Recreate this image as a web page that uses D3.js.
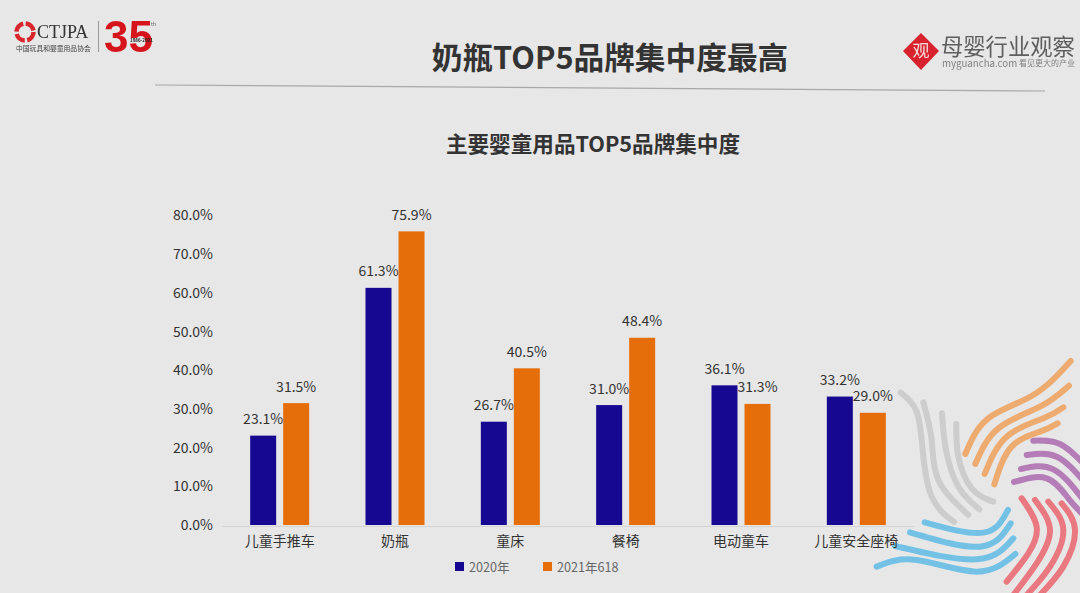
<!DOCTYPE html>
<html>
<head>
<meta charset="utf-8">
<style>
html, body { margin: 0; padding: 0; background: #e7e7e7; }
svg { display: block; }
text { font-family: "Noto Sans CJK SC", "Noto Sans", sans-serif; }
.tick-label { font-size: 14px; fill: #333; }
.cat-label { font-size: 14px; fill: #333; }
.value-label { font-size: 14px; fill: #333; }
.legend-label { font-size: 12.6px; fill: #666; }
.soft { filter: blur(0.5px); }
</style>
</head>
<body>
<svg id="chart" width="1080" height="593"></svg>
<script src="https://cdn.jsdelivr.net/npm/d3@7/dist/d3.min.js"></script>
<script>
var categories = ['儿童手推车', '奶瓶', '童床', '餐椅', '电动童车', '儿童安全座椅'];
var seriesNames = ['2020年', '2021年618'];
var values2020 = [23.1, 61.3, 26.7, 31.0, 36.1, 33.2];
var values2021 = [31.5, 75.9, 40.5, 48.4, 31.3, 29.0];
var yTicks = [0, 10, 20, 30, 40, 50, 60, 70, 80];
var seriesColors = ['#170891', '#e66e0a'];

// decoration ribbons, points in zoomed crop units
var grayRibbons = [
	[[122, 128], [170, 185], [188, 300], [215, 440], [282, 516]],
	[[190, 157], [215, 270], [235, 390], [325, 495]],
	[[246, 190], [258, 300], [295, 410], [358, 478]],
	[[289, 222], [295, 320], [335, 415], [400, 455]]
];
var orangeRibbons = [
	[[316, 312], [385, 205], [520, 135], [632, 33]],
	[[346, 342], [415, 235], [540, 170], [627, 107]],
	[[374, 372], [440, 260], [550, 205], [610, 172]],
	[[403, 403], [455, 290], [540, 245], [593, 220]]
];
var purpleRibbons = [
	[[520, 272], [600, 282], [670, 340]],
	[[500, 315], [590, 320], [670, 392]],
	[[483, 357], [580, 358], [670, 450]],
	[[462, 396], [560, 385], [625, 445], [670, 495]]
];
var redRibbons = [
	[[485, 445], [530, 530], [505, 610], [440, 695]],
	[[525, 450], [570, 540], [530, 640], [460, 735]],
	[[565, 455], [610, 540], [570, 650], [500, 735]],
	[[605, 460], [645, 540], [610, 650], [540, 735]]
];
var blueRibbons = [
	[[444, 480], [370, 548], [194, 517]],
	[[452, 520], [360, 590], [150, 547]],
	[[460, 565], [350, 628], [105, 588]],
	[[466, 612], [350, 665], [170, 630], [50, 650]]
];

var svg = d3.select('#chart');

var x0 = d3.scaleBand().domain(categories).range([222, 914]);
var x1 = d3.scaleBand().domain(seriesNames).range([0, 59]).paddingInner(7 / 33);
var y = d3.scaleLinear().domain([0, 80]).range([525, 215.5]);
var ribbonLine = d3.line().curve(d3.curveNatural);

function barLeft(cat, name) {
	return x0(cat) + (x0.bandwidth() - 59) / 2 + x1(name);
}

function drawRibbons(group, paths, color) {
	group.selectAll(null).data(paths).enter().append('path')
		.attr('d', function (d) { return ribbonLine(d); })
		.attr('fill', 'none')
		.attr('stroke', color)
		.attr('stroke-width', 18);
}

// ribbons behind everything else
var ribbons = svg.append('g')
	.attr('class', 'soft')
	.attr('transform', 'translate(860,350) scale(0.3333)')
	.attr('stroke-linecap', 'round');
drawRibbons(ribbons, grayRibbons, '#cdcdcd');
drawRibbons(ribbons, orangeRibbons, '#eeab70');
drawRibbons(ribbons, purpleRibbons, '#b57db8');
drawRibbons(ribbons, redRibbons, '#ea7880');
drawRibbons(ribbons, blueRibbons, '#73c2e6');

// titles
svg.append('text').attr('x', 610).attr('y', 69).attr('text-anchor', 'middle')
	.attr('font-size', 30.7).attr('font-weight', 700).attr('fill', '#333')
	.text('奶瓶TOP5品牌集中度最高');
svg.append('line').attr('x1', 155).attr('x2', 1045).attr('y1', 85).attr('y2', 91)
	.attr('stroke', '#a8a8a8').attr('stroke-width', 1.2);
svg.append('text').attr('x', 593).attr('y', 152).attr('text-anchor', 'middle')
	.attr('font-size', 21.6).attr('font-weight', 700).attr('fill', '#333')
	.text('主要婴童用品TOP5品牌集中度');

// left logo
var logo = svg.append('g').attr('class', 'soft');
logo.append('circle').attr('cx', 25).attr('cy', 32).attr('r', 8.5)
	.attr('fill', 'none').attr('stroke', '#d9262c').attr('stroke-width', 4.5)
	.attr('stroke-dasharray', '11 2.5');
logo.append('text').attr('x', 37).attr('y', 37.5).attr('font-size', 18)
	.attr('fill', '#333').style('font-family', '"Liberation Serif", serif').text('CTJPA');
logo.append('text').attr('x', 16).attr('y', 51).attr('font-size', 6.8)
	.attr('fill', '#444').text('中国玩具和婴童用品协会');
logo.append('line').attr('x1', 98.5).attr('x2', 98.5).attr('y1', 21).attr('y2', 52)
	.attr('stroke', '#999');
logo.append('text').attr('x', 104).attr('y', 52).attr('font-size', 44).attr('font-weight', 700)
	.attr('fill', '#d5141c').style('font-family', '"Liberation Sans", sans-serif').text('35');
logo.append('text').attr('x', 130).attr('y', 42).attr('font-size', 4.5).attr('font-weight', 700)
	.attr('fill', '#222').text('1986-2021');
logo.append('text').attr('x', 151).attr('y', 26).attr('font-size', 5).attr('fill', '#555').text('th');

// right logo
var brand = svg.append('g').attr('class', 'soft');
brand.append('path').attr('d', 'M921,33L939,51L921,70L903,51Z').attr('fill', '#d8232f');
brand.append('text').attr('x', 921).attr('y', 57).attr('text-anchor', 'middle')
	.attr('font-size', 17).attr('fill', '#f6dcdc').text('观');
brand.append('text').attr('x', 941).attr('y', 55).attr('font-size', 22.3)
	.attr('fill', '#5e5e5e').text('母婴行业观察');
brand.append('text').attr('x', 942).attr('y', 67).attr('font-size', 9.7)
	.attr('fill', '#808080').text('myguancha.com');
brand.append('text').attr('x', 1019).attr('y', 66).attr('font-size', 8)
	.attr('fill', '#808080').text('看见更大的产业');

// y axis, labels only
var yAxis = d3.axisLeft(y).tickValues(yTicks).tickSize(0).tickPadding(0)
	.tickFormat(function (d) { return d.toFixed(1) + '%'; });
var yGroup = svg.append('g').attr('transform', 'translate(213,0)').call(yAxis);
yGroup.select('.domain').remove();
yGroup.selectAll('text').attr('class', 'tick-label');

// x axis
var xAxis = d3.axisBottom(x0).tickSize(0).tickPadding(10);
var xGroup = svg.append('g').attr('transform', 'translate(0,526)').call(xAxis);
xGroup.select('.domain').attr('stroke', '#d4d4d4');
xGroup.selectAll('text').attr('class', 'cat-label');

// bars and value labels
[values2020, values2021].forEach(function (values, s) {
	var name = seriesNames[s];
	svg.append('g').selectAll('rect').data(values).enter().append('rect')
		.attr('x', function (d, i) { return barLeft(categories[i], name); })
		.attr('y', function (d) { return y(d); })
		.attr('width', x1.bandwidth())
		.attr('height', function (d) { return y(0) - y(d); })
		.attr('fill', seriesColors[s]);
	svg.append('g').selectAll('text').data(values).enter().append('text')
		.attr('class', 'value-label')
		.attr('x', function (d, i) { return barLeft(categories[i], name) + x1.bandwidth() / 2; })
		.attr('y', function (d) { return y(d) - 11.5; })
		.attr('text-anchor', 'middle')
		.text(function (d) { return d.toFixed(1) + '%'; });
});

// legend
var legendX = d3.scaleOrdinal().domain(seriesNames).range([455, 543]);
var legend = svg.append('g').selectAll('g').data(seriesNames).enter().append('g')
	.attr('transform', function (d) { return 'translate(' + legendX(d) + ',562)'; });
legend.append('rect').attr('width', 9).attr('height', 9)
	.attr('fill', function (d, i) { return seriesColors[i]; });
legend.append('text').attr('class', 'legend-label').attr('x', 14).attr('y', 9.5)
	.text(function (d) { return d; });
</script>
</body>
</html>
